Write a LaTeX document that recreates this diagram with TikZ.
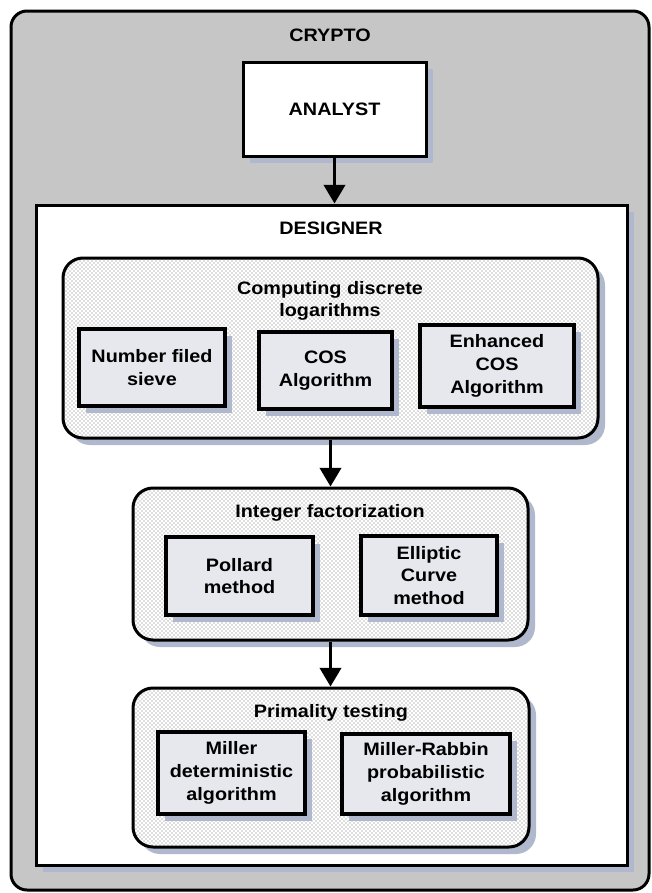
\documentclass[tikz,border=0pt]{standalone}
\usepackage{fontspec}
\setmainfont{Liberation Sans}[FakeStretch=1.1]
\usetikzlibrary{shadows,patterns,arrows.meta}
\definecolor{outerfill}{HTML}{C6C6C6}
\definecolor{boxfill}{HTML}{E6E8EE}
\definecolor{shadowc}{HTML}{AFB8CC}
\newdimen\pxu \pxu=0.75pt
\begin{document}
\begin{tikzpicture}[x=0.75pt,y=-0.75pt,
  every node/.style={font=\fontsize{13.5}{17}\selectfont\bfseries, align=center, inner sep=0pt},
  shad/.style={drop shadow={shadow xshift=7\pxu, shadow yshift=-7\pxu, fill=shadowc, opacity=1}},
  outerbox/.style={draw, line width=3\pxu, rounded corners=16\pxu, fill=outerfill},
  plainbox/.style={draw, line width=3\pxu, fill=white, shad},
  groupbox/.style={draw, line width=3\pxu, rounded corners=20\pxu, shad, preaction={fill=white}, pattern=crosshatch dots, pattern color=gray!90!black},
  itembox/.style={draw, line width=3.5\pxu, fill=boxfill, shad},
  flow/.style={line width=2.25pt, -{Triangle[width=16pt,length=14pt]}}
]
\useasboundingbox (0,0) rectangle (651,893);
\node[outerbox, minimum width=638\pxu, minimum height=879\pxu] (crypto) at (330,450.5) {};
\node (cryptolabel) at (330,35) {CRYPTO};
\node[plainbox, minimum width=183\pxu, minimum height=94\pxu] (analyst) at (334.5,109) {ANALYST};
\node[plainbox, minimum width=591\pxu, minimum height=660\pxu] (designer) at (331.5,535) {};
\node (designerlabel) at (331,228) {DESIGNER};

\node[groupbox, minimum width=535\pxu, minimum height=180\pxu] (comp) at (330.5,348) {};
\node (comptitle) at (330,301) {Computing discrete\\logarithms};
\node[itembox, minimum width=146\pxu, minimum height=77\pxu] (nfs) at (152,367.5) {Number filed\\sieve};
\node[itembox, minimum width=133\pxu, minimum height=77\pxu] (cos) at (325.5,370.5) {COS\\Algorithm};
\node[itembox, minimum width=154\pxu, minimum height=82\pxu] (ecos) at (497,366) {Enhanced\\COS\\Algorithm};

\node[groupbox, minimum width=395\pxu, minimum height=152\pxu] (intf) at (330.5,564) {};
\node (inttitle) at (330,513) {Integer factorization};
\node[itembox, minimum width=147\pxu, minimum height=78\pxu] (pollard) at (239.5,576) {Pollard\\method};
\node[itembox, minimum width=136\pxu, minimum height=79\pxu] (elliptic) at (429,575.5) {Elliptic\\Curve\\method};

\node[groupbox, minimum width=396\pxu, minimum height=159\pxu] (prim) at (331,767.5) {};
\node (primtitle) at (331,713) {Primality testing};
\node[itembox, minimum width=147\pxu, minimum height=82\pxu] (miller) at (231.5,773) {Miller\\deterministic\\algorithm};
\node[itembox, minimum width=168\pxu, minimum height=80\pxu] (mr) at (426,774) {Miller-Rabbin\\probabilistic\\algorithm};

\draw[flow] (analyst.south) -- (analyst.south |- designer.north);
\draw[flow] (comp.south) -- (comp.south |- intf.north);
\draw[flow] (intf.south) -- (intf.south |- prim.north);
\end{tikzpicture}
\end{document}
